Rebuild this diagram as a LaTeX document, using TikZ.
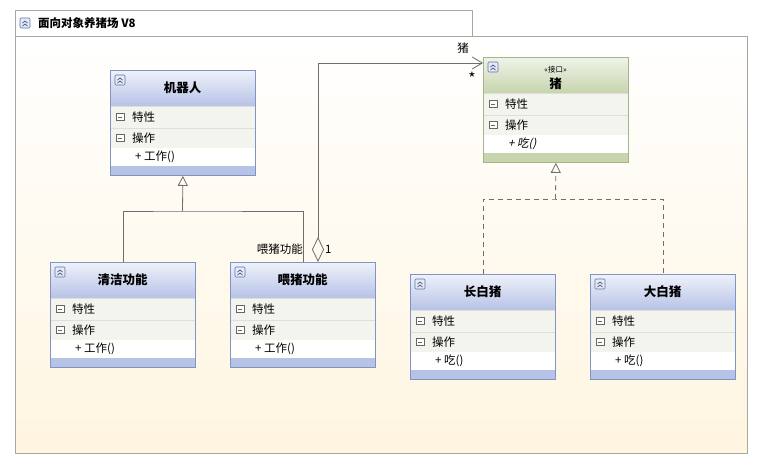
\documentclass[tikz,border=0pt]{standalone}
\usepackage{fontspec}
\setmainfont{Noto Sans CJK SC}
\newfontfamily\slantcjk[FakeSlant=0.2]{Noto Sans CJK SC}
\usetikzlibrary{arrows.meta,calc}
\definecolor{frameline}{HTML}{A8A8A0}
\definecolor{bodybot}{HTML}{FFF5E0}
\definecolor{bhtop}{HTML}{EFF2FA}
\definecolor{bhbot}{HTML}{B7C3E6}
\definecolor{bborder}{HTML}{8094C4}
\definecolor{ghtop}{HTML}{F0F4E9}
\definecolor{ghbot}{HTML}{C6D5AE}
\definecolor{gborder}{HTML}{A3B58A}
\definecolor{rowc}{HTML}{F3F4EE}
\definecolor{rowsep}{HTML}{DEE0D8}
\definecolor{connc}{HTML}{6E6E6E}
\definecolor{iconc}{HTML}{5E72A6}
\definecolor{iconfill}{HTML}{E4EAF6}
\tikzset{
  rowtext/.style={font=\fontsize{11.5}{12}\selectfont, anchor=west, inner sep=0pt},
  titletext/.style={font=\fontsize{12.5}{14}\selectfont\bfseries, inner sep=0pt},
  conn/.style={draw=connc, line width=0.8pt},
  lbl/.style={font=\fontsize{11.5}{12}\selectfont, inner sep=0pt},
}
% collapse icon at local (x,y) top-left
\newcommand{\collapseicon}[2]{%
  \draw[iconc, fill=iconfill, rounded corners=1pt, line width=0.6pt] (#1,#2) rectangle ++(10,10);
  \draw[iconc!70!black, line width=0.7pt] ($(#1,#2)+(2.5,5)$) -- ++(2.5,-2) -- ++(2.5,2);
  \draw[iconc!70!black, line width=0.7pt] ($(#1,#2)+(2.5,8)$) -- ++(2.5,-2) -- ++(2.5,2);
}
\newcommand{\minusicon}[2]{%
  \draw[gray!80!black, fill=white, line width=0.5pt] ($(#1,#2)+(0,-3.5)$) rectangle ++(8,7);
  \draw[gray!80!black, line width=0.6pt] ($(#1,#2)+(2,0)$) -- ++(4,0);
}
% #1 name, #2 x, #3 y, #4 title, #5 method, #6 head top, #7 head bottom, #8 border, #9 stereotype
\newcommand{\umlclass}[9]{%
\begin{scope}[shift={(#2,#3)}]
  \shade[top color=#6, bottom color=#7] (0,0) rectangle (145,36);
  \fill[rowc] (0,36) rectangle (145,78);
  \draw[rowsep, line width=0.8pt] (0,58) -- (145,58);
  \draw[rowsep, line width=0.8pt] (0,36.5) -- (145,36.5);
  \fill[white] (0,78) rectangle (145,96);
  \fill[#7] (0,96) rectangle (145,105);
  \collapseicon{5}{5}
  \minusicon{6}{47}
  \minusicon{6}{68}
  \node[rowtext] (#1p) at (22,47) {特性};
  \node[rowtext] (#1o) at (22,68) {操作};
  \node[rowtext] (#1m) at (25,87) {#5};
  \ifx\relax#9\relax
    \node[titletext] (#1t) at (72.5,18) {#4};
  \else
    \node[inner sep=0pt, font=\fontsize{7.5}{8}\selectfont] (#1s) at (72.5,13) {#9};
    \node[titletext] (#1t) at (72.5,27) {#4};
  \fi
  \node[draw=#8, line width=0.8pt, minimum width=145pt, minimum height=105pt, inner sep=0pt, anchor=north west] (#1) at (0,0) {};
\end{scope}}
\begin{document}
\begin{tikzpicture}[x=1pt,y=-1pt]
\useasboundingbox (0,0) rectangle (763,469);
\fill[white] (0,0) rectangle (763,469);
% outer frame
\shade[top color=white, bottom color=bodybot] (15,36) rectangle (747,453);
\draw[frameline, line width=0.8pt] (15,36) rectangle (747,453);
\draw[frameline, fill=white, line width=0.8pt] (15,10) rectangle (472,36);
\collapseicon{20}{18}
\node[anchor=west, inner sep=0pt, font=\fontsize{11.5}{12}\selectfont\bfseries] (frametitle) at (38,23.5) {面向对象养猪场 V8};

% classes
\umlclass{jq}{110}{70}{机器人}{+ 工作()}{bhtop}{bhbot}{bborder}{}
\umlclass{qj}{50}{262}{清洁功能}{+ 工作()}{bhtop}{bhbot}{bborder}{}
\umlclass{wz}{230}{262}{喂猪功能}{+ 工作()}{bhtop}{bhbot}{bborder}{}
\umlclass{zhu}{483}{57}{猪}{\slantcjk + 吃()}{ghtop}{ghbot}{gborder}{«接口»}
\umlclass{cb}{410}{274}{长白猪}{+ 吃()}{bhtop}{bhbot}{bborder}{}
\umlclass{db}{590}{274}{大白猪}{+ 吃()}{bhtop}{bhbot}{bborder}{}

% generalization
\coordinate (gj) at (182.5,211);
\draw[conn] (qj.north) |- (gj) -| (wz.north);
\draw[conn, -{Triangle[open, length=10pt, width=10pt]}] (gj) -- (jq.south);

% realization
\coordinate (rj) at (555.5,199);
\draw[conn, dash pattern=on 5pt off 4pt] (cb.north) |- (rj) -| (db.north);
\draw[conn, dash pattern=on 5pt off 4pt, -{Triangle[open, length=10pt, width=10pt]}] (rj) -- (zhu.south);

% aggregation
\coordinate (ag) at ($(wz.north west)+(88,0)$);
\coordinate (agtop) at (318,63);
\coordinate (zt) at ($(zhu.north west)+(0,6)$);
\draw[conn, {Diamond[open, length=25pt, width=12pt]}-{Straight Barb[length=10pt, width=12pt]}] (ag) -- (agtop) -- (zt);
\node[lbl] (l1) at (463,48) {猪};
\node[inner sep=0pt, font=\fontsize{12}{12}\selectfont] (l2) at (472,75) {\textasteriskcentered};
\node[lbl, anchor=east] (l3) at (303,249) {喂猪功能};
\node[lbl, anchor=west] (l4) at (325,249) {1};
\end{tikzpicture}
\end{document}
